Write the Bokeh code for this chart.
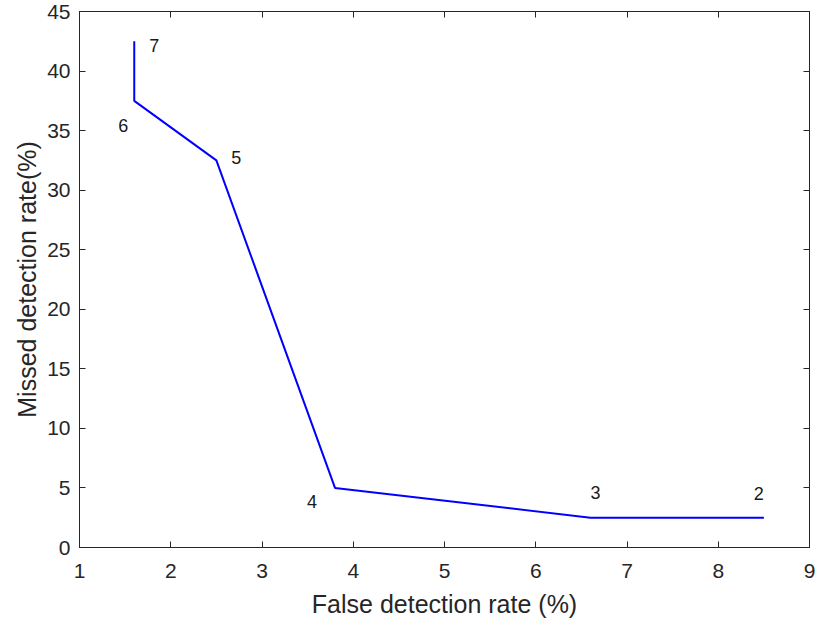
from bokeh.plotting import figure
from bokeh.models import ColumnDataSource, FixedTicker, LinearAxis, Range1d
from bokeh.core.properties import value
from bokeh.embed import file_html
from bokeh.resources import INLINE

# data
false_rate = [8.5, 6.6, 3.8, 2.5, 1.6, 1.6]
missed_rate = [2.5, 2.5, 5.0, 32.5, 37.5, 42.5]
point_labels = ["2", "3", "4", "5", "6", "7"]
x_ticks = [1, 2, 3, 4, 5, 6, 7, 8, 9]
y_ticks = [0, 5, 10, 15, 20, 25, 30, 35, 40, 45]

# label pixel offsets in screen units (style)
label_dx = [-5, 5, -23, 20, -11, 20]
label_dy = [-24, -25, 14, -3, 25, 4]

FONT = "Liberation Sans"
AX = "#262626"

p = figure(width=822, height=622, output_backend="svg", toolbar_location=None,
           x_range=Range1d(1, 9), y_range=Range1d(0, 45),
           min_border_left=79, min_border_right=13, min_border_top=11, min_border_bottom=75)
p.outline_line_color = AX
p.grid.visible = False
p.background_fill_color = "white"

src = ColumnDataSource(dict(x=false_rate, y=missed_rate, t=point_labels, dx=label_dx, dy=label_dy))
p.line("x", "y", source=src, line_color="#0000ff", line_width=2)
p.text("x", "y", text="t", source=src, x_offset="dx", y_offset="dy",
       text_align="center", text_baseline="middle", text_font=value(FONT),
       text_font_size="18px", text_color="#1a1a1a")

def style_axis(ax, labels=True):
    ax.axis_line_color = AX
    ax.major_tick_line_color = AX
    ax.major_tick_in = 6
    ax.major_tick_out = 0
    ax.minor_tick_line_color = None
    ax.major_label_text_font = FONT
    ax.major_label_text_font_size = "21px"
    ax.major_label_text_color = AX
    ax.axis_label_text_font = FONT
    ax.axis_label_text_font_size = "25px"
    ax.axis_label_text_font_style = "normal"
    ax.axis_label_text_color = AX
    if not labels:
        ax.major_label_overrides = {t: "" for t in ax.ticker.ticks}

p.xaxis.ticker = FixedTicker(ticks=x_ticks)
p.yaxis.ticker = FixedTicker(ticks=y_ticks)
p.xaxis.axis_label = "False detection rate (%)"
p.yaxis.axis_label = "Missed detection rate(%)"
style_axis(p.xaxis[0])
style_axis(p.yaxis[0])
p.xaxis.major_label_standoff = 16
p.yaxis.major_label_standoff = 9
p.xaxis.axis_label_standoff = 9
p.yaxis.axis_label_standoff = 3

top = LinearAxis(ticker=FixedTicker(ticks=x_ticks))
style_axis(top, labels=False)
right = LinearAxis(ticker=FixedTicker(ticks=y_ticks))
style_axis(right, labels=False)
p.add_layout(top, "above")
p.add_layout(right, "right")

open("out.html", "w").write(file_html(p, INLINE))
